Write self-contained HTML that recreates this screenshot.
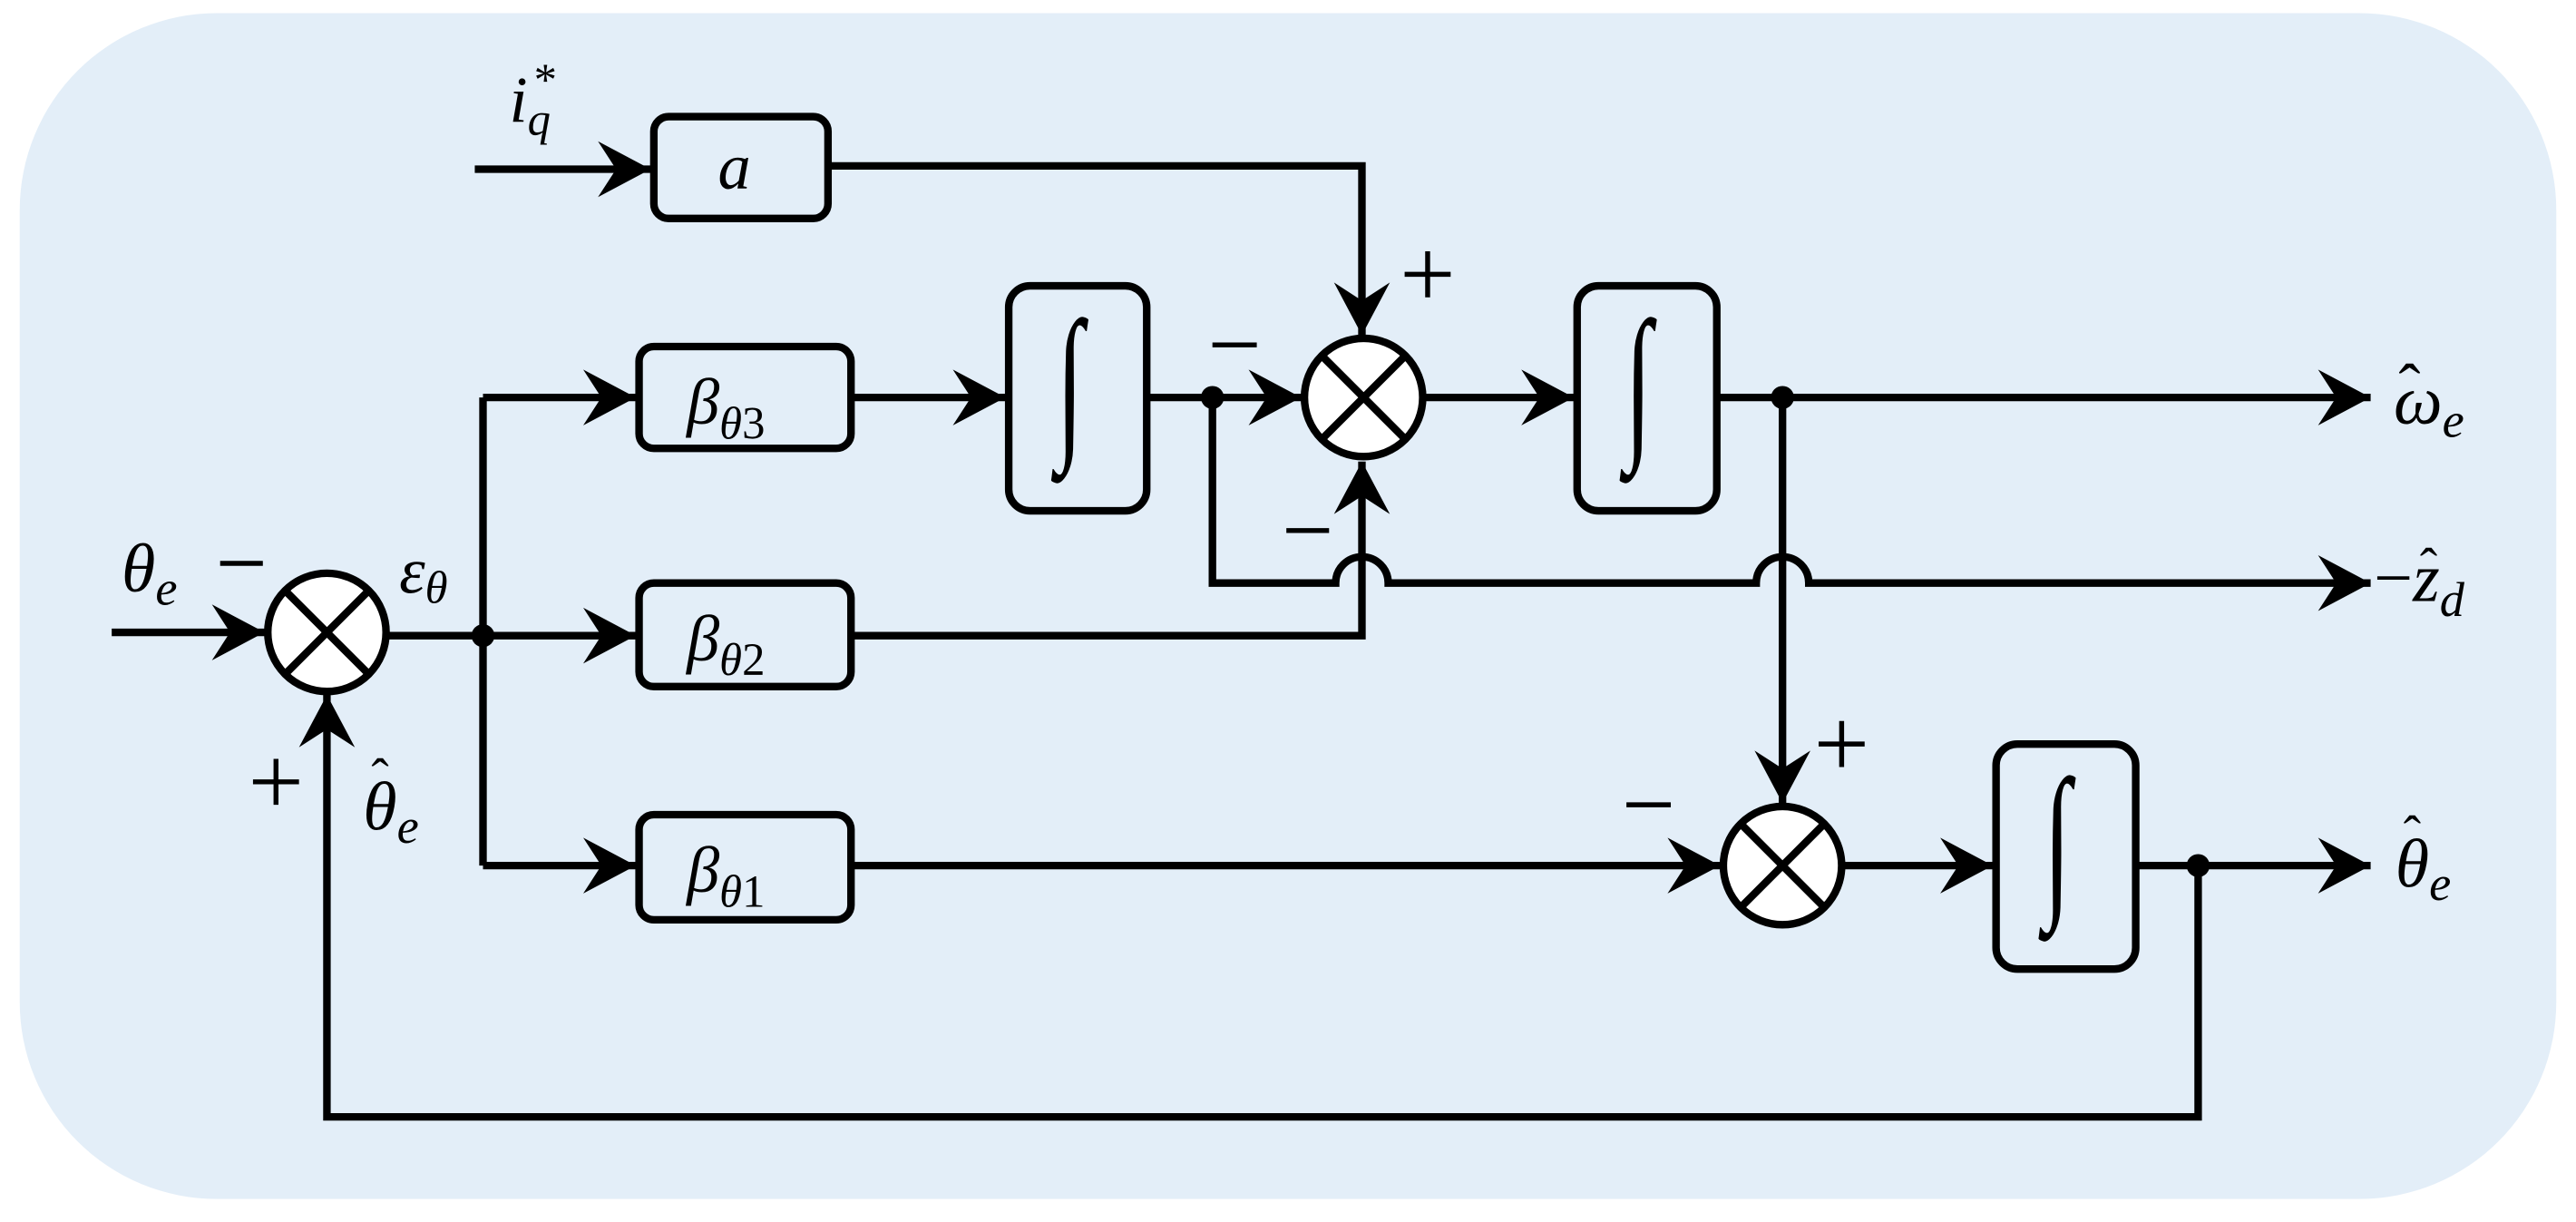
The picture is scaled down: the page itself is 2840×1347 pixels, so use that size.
<!DOCTYPE html>
<html><head><meta charset="utf-8"><style>
html,body{margin:0;padding:0;background:#fff;}
svg{display:block;}
text{font-family:"Liberation Serif","DejaVu Serif",serif;font-style:italic;fill:#000;}
.n{font-style:normal;}
</style></head><body>
<svg width="2840" height="1347" viewBox="0 0 1568 744" preserveAspectRatio="none" xmlns="http://www.w3.org/2000/svg">
<defs>
<marker id="a" markerUnits="userSpaceOnUse" markerWidth="40" markerHeight="40" viewBox="-34 -20 36 40" refX="0" refY="0" orient="auto">
<path d="M0,0 L-32,-17 L-21,0 L-32,17 Z" fill="#000"/>
</marker>
</defs>
<rect x="0" y="0" width="1568" height="744" fill="#fff"/>
<rect x="12" y="8" width="1544" height="722" rx="120" fill="#e3eef8"/>
<g stroke="#000" stroke-width="4.6" fill="none" stroke-linejoin="miter">
<rect x="398" y="71" width="106" height="62" rx="9"/>
<rect x="389" y="211" width="129" height="62" rx="9"/>
<rect x="389" y="355" width="129" height="63" rx="9"/>
<rect x="389" y="496" width="129" height="64" rx="9"/>
<rect x="614" y="174" width="84" height="137" rx="13"/>
<rect x="960" y="174" width="85" height="137" rx="13"/>
<rect x="1215" y="453" width="85" height="137" rx="13"/>
<g fill="#fff">
<circle cx="199" cy="385" r="36"/>
<circle cx="830" cy="242" r="36"/>
<circle cx="1085" cy="527" r="36"/>
</g>
<path d="M174,360 L224,410 M224,360 L174,410"/>
<path d="M805,217 L855,267 M855,217 L805,267"/>
<path d="M1060,502 L1110,552 M1110,502 L1060,552"/>
<path d="M289,103 L396,103" marker-end="url(#a)"/>
<path d="M504,101 L829,101 L829,204" marker-end="url(#a)"/>
<path d="M68,385 L161,385" marker-end="url(#a)"/>
<path d="M235,387 L294,387"/>
<path d="M294,242 L294,527"/>
<path d="M294,242 L387,242" marker-end="url(#a)"/>
<path d="M294,387 L387,387" marker-end="url(#a)"/>
<path d="M294,527 L387,527" marker-end="url(#a)"/>
<path d="M518,242 L612,242" marker-end="url(#a)"/>
<path d="M698,242 L792,242" marker-end="url(#a)"/>
<path d="M738,242 L738,355 L813,355 A16,16 0 0 1 845,355 L1069,355 A16,16 0 0 1 1101,355 L1443,355" marker-end="url(#a)"/>
<path d="M518,387 L829,387 L829,281" marker-end="url(#a)"/>
<path d="M867,242 L958,242" marker-end="url(#a)"/>
<path d="M1045,242 L1443,242" marker-end="url(#a)"/>
<path d="M1085,242 L1085,489" marker-end="url(#a)"/>
<path d="M518,527 L1047,527" marker-end="url(#a)"/>
<path d="M1121,527 L1213,527" marker-end="url(#a)"/>
<path d="M1300,527 L1443,527" marker-end="url(#a)"/>
<path d="M1338,527 L1338,680 L199,680 L199,423" marker-end="url(#a)"/>
</g>
<g fill="#000">
<circle cx="294" cy="387" r="7"/>
<circle cx="738" cy="242" r="7"/>
<circle cx="1085" cy="242" r="7"/>
<circle cx="1338" cy="527" r="7"/>
</g>
<g stroke="#000" stroke-width="3" fill="none">
<path d="M134,343 L160,343"/>
<path d="M738,210 L765,210"/>
<path d="M783,323 L809,323"/>
<path d="M990,490 L1017,490"/>
<path d="M855,167 L883,167 M869,153 L869,181"/>
<path d="M1107,453 L1135,453 M1121,439 L1121,467"/>
<path d="M154,476 L182,476 M168,462 L168,490"/>
</g>
<g font-size="60">
<text x="643" y="268" transform="translate(656,242.5) scale(1,1.72) translate(-656,-254)">∫</text>
<text x="989" y="268" transform="translate(1002,242.5) scale(1,1.72) translate(-1002,-254)">∫</text>
<text x="1244" y="268" transform="translate(1257,521.5) scale(1,1.72) translate(-1257,-254)">∫</text>
</g>
<text x="437" y="115" font-size="40">a</text>
<text x="418" y="258" font-size="40">β<tspan font-size="28" dy="9">θ</tspan><tspan font-size="28" class="n">3</tspan></text>
<text x="418" y="402" font-size="40">β<tspan font-size="28" dy="9">θ</tspan><tspan font-size="28" class="n">2</tspan></text>
<text x="418" y="543" font-size="40">β<tspan font-size="28" dy="9">θ</tspan><tspan font-size="28" class="n">1</tspan></text>
<text x="310" y="74" font-size="40">i<tspan font-size="28" dy="8">q</tspan></text>
<text x="325" y="58" font-size="28" class="n">*</text>
<text x="74" y="360" font-size="42">θ<tspan font-size="30" dy="8">e</tspan></text>
<text x="243" y="361" font-size="40">ε<tspan font-size="28" dy="6">θ</tspan></text>
<text x="221" y="505" font-size="42">θ<tspan font-size="30" dy="8">e</tspan></text>
<text x="226" y="484" font-size="32" class="n">ˆ</text>
<text x="1457" y="258" font-size="42">ω<tspan font-size="30" dy="8">e</tspan></text>
<text x="1460" y="249" font-size="40" class="n">ˆ</text>
<text x="1445" y="366" font-size="42"><tspan class="n">−</tspan>z<tspan font-size="30" dy="9">d</tspan></text>
<text x="1473" y="356" font-size="32" class="n">ˆ</text>
<text x="1458" y="540" font-size="42">θ<tspan font-size="30" dy="8">e</tspan></text>
<text x="1463" y="519" font-size="32" class="n">ˆ</text>
</svg>
</body></html>
